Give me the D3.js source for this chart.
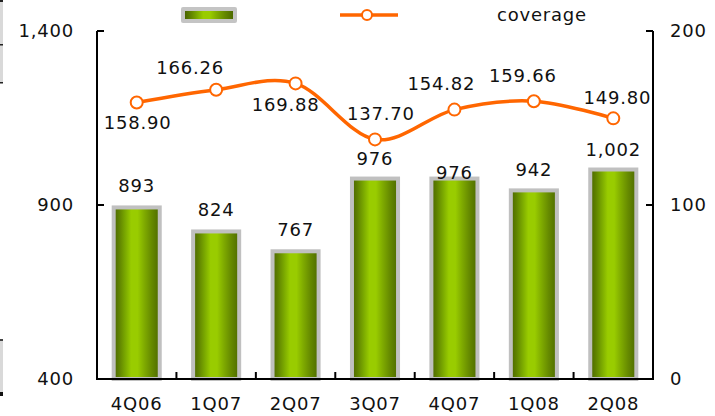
<!DOCTYPE html>
<html>
<head>
<meta charset="utf-8">
<script src="https://cdn.jsdelivr.net/npm/d3@7"></script>
<style>
html,body{margin:0;padding:0;background:#fff;}
svg text{font-family:"DejaVu Sans",Verdana,sans-serif;font-size:18px;fill:#111;letter-spacing:0.8px;}
</style>
</head>
<body>
<svg id="chart" width="715" height="416"></svg>
<script>
// ---- data ----
const categories = ["4Q06","1Q07","2Q07","3Q07","4Q07","1Q08","2Q08"];
const barValues = [893, 824, 767, 976, 976, 942, 1002];
const barLabels = ["893","824","767","976","976","942","1,002"];
const coverage = [158.90, 166.26, 169.88, 137.70, 154.82, 159.66, 149.80];
const coverageLabels = ["158.90","166.26","169.88","137.70","154.82","159.66","149.80"];
const leftTicks = [400, 900, 1400];
const rightTicks = [0, 100, 200];
const seriesNames = ["", "coverage"];

// ---- layout (label nudges, not data) ----
const barLabelDy = [-15, -15, -15, -14, 0, -14, -14];
const lineLabelOffset = [[1,26],[-26,-16],[-10,28],[6,-19],[-13,-20],[-11,-19],[4,-14]];

const svg = d3.select("#chart");
const L = 97, R = 653, T = 31, B = 379;

const x = d3.scaleBand().domain(categories).range([L, R]).paddingInner(0).paddingOuter(0);
const yL = d3.scaleLinear().domain([400, 1400]).range([B, T]);
const yR = d3.scaleLinear().domain([0, 200]).range([B, T]);

// gradient
const defs = svg.append("defs");
const g = defs.append("linearGradient").attr("id","barGrad").attr("x1","0").attr("x2","1").attr("y1","0").attr("y2","0");
[["0%","#4a6400"],["12%","#5f8200"],["25%","#7aa800"],["38%","#99cc00"],["52%","#99cc00"],["66%","#80ac00"],["82%","#668a00"],["100%","#4d6a00"]]
  .forEach(s => g.append("stop").attr("offset", s[0]).attr("stop-color", s[1]));

// left edge artifacts (cropped table borders)
svg.append("rect").attr("x",0).attr("y",0).attr("width",3).attr("height",83).attr("fill","#d9d9d9");
svg.append("rect").attr("x",0).attr("y",0).attr("width",3).attr("height",2).attr("fill","#222");
svg.append("rect").attr("x",0).attr("y",44).attr("width",3).attr("height",1.5).attr("fill","#222");
svg.append("rect").attr("x",0).attr("y",82).attr("width",3).attr("height",1.5).attr("fill","#222");
svg.append("rect").attr("x",0).attr("y",339).attr("width",3).attr("height",57).attr("fill","#d9d9d9");
svg.append("rect").attr("x",0).attr("y",339).attr("width",3).attr("height",2).attr("fill","#444");
svg.append("rect").attr("x",0).attr("y",392).attr("width",3).attr("height",4).attr("fill","#111");

// bars
const bw = x.bandwidth() * 0.58;
svg.append("g").selectAll("rect").data(barValues).join("rect")
  .attr("x", (d,i) => x(categories[i]) + (x.bandwidth() - bw) / 2)
  .attr("y", d => yL(d))
  .attr("width", bw)
  .attr("height", d => B - yL(d))
  .attr("fill", "url(#barGrad)")
  .attr("stroke", "#c0c0c0")
  .attr("stroke-width", 4);

// bar labels
svg.append("g").selectAll("text").data(barValues).join("text")
  .attr("x", (d,i) => x(categories[i]) + x.bandwidth() / 2)
  .attr("y", (d,i) => yL(d) + barLabelDy[i])
  .attr("text-anchor", "middle")
  .text((d,i) => barLabels[i]);

// axes
const axisG = svg.append("g").attr("stroke", "#000").attr("stroke-width", 2).attr("fill","none");
axisG.append("line").attr("x1", L).attr("x2", L).attr("y1", T).attr("y2", B + 1);
axisG.append("line").attr("x1", R).attr("x2", R).attr("y1", T).attr("y2", B + 1);
axisG.append("line").attr("x1", L - 1).attr("x2", R + 1).attr("y1", B).attr("y2", B);
leftTicks.forEach(t => axisG.append("line").attr("x1", L).attr("x2", L + 7).attr("y1", yL(t)).attr("y2", yL(t)));
rightTicks.forEach(t => axisG.append("line").attr("x1", R - 7).attr("x2", R).attr("y1", yR(t)).attr("y2", yR(t)));
categories.slice(1).forEach(c => axisG.append("line").attr("x1", x(c)).attr("x2", x(c)).attr("y1", B).attr("y2", B - 7));

svg.append("g").selectAll("text").data(leftTicks).join("text")
  .attr("x", 74).attr("y", d => yL(d)).attr("dy", "0.36em").attr("text-anchor", "end")
  .text(d => d3.format(",")(d));
svg.append("g").selectAll("text").data(rightTicks).join("text")
  .attr("x", 670).attr("y", d => yR(d)).attr("dy", "0.36em").attr("text-anchor", "start")
  .text(d => d);
svg.append("g").selectAll("text").data(categories).join("text")
  .attr("x", d => x(d) + x.bandwidth() / 2).attr("y", 410).attr("text-anchor", "middle")
  .text(d => d);

// coverage line
const pts = coverage.map((v,i) => [x(categories[i]) + x.bandwidth() / 2, yR(v)]);
svg.append("path").attr("d", d3.line().curve(d3.curveCardinal.tension(0))(pts))
  .attr("fill", "none").attr("stroke", "#ff6600").attr("stroke-width", 3.5);
svg.append("g").selectAll("circle").data(pts).join("circle")
  .attr("cx", d => d[0]).attr("cy", d => d[1]).attr("r", 6)
  .attr("fill", "#fff").attr("stroke", "#ff6600").attr("stroke-width", 2);
svg.append("g").selectAll("text").data(pts).join("text")
  .attr("x", (d,i) => d[0] + lineLabelOffset[i][0])
  .attr("y", (d,i) => d[1] + lineLabelOffset[i][1])
  .attr("text-anchor", "middle")
  .text((d,i) => coverageLabels[i]);

// legend
const lg = svg.append("g");
lg.append("rect").attr("x", 181).attr("y", 7).attr("width", 56).attr("height", 16).attr("rx", 2).attr("fill", "#c4c4c4");
lg.append("rect").attr("x", 185).attr("y", 11).attr("width", 48).attr("height", 8).attr("fill", "url(#barGrad)");
lg.append("text").attr("x", 245).attr("y", 21).text(seriesNames[0]);
lg.append("line").attr("x1", 340).attr("x2", 398).attr("y1", 15).attr("y2", 15).attr("stroke", "#ff6600").attr("stroke-width", 3.5);
lg.append("circle").attr("cx", 367).attr("cy", 15).attr("r", 5).attr("fill", "#fff").attr("stroke", "#ff6600").attr("stroke-width", 2);
lg.append("text").attr("x", 497).attr("y", 21).text(seriesNames[1]);
</script>
</body>
</html>
